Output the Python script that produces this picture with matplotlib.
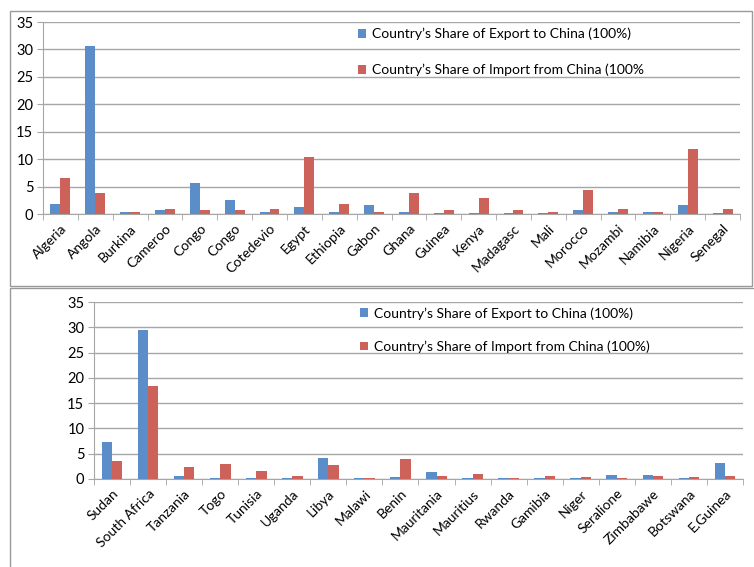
import numpy as np
import matplotlib
matplotlib.use('Agg')
import matplotlib.pyplot as plt
from matplotlib.patches import Rectangle

plt.rcParams['font.family'] = ['Lato', 'DejaVu Sans']

# Дані: частка експорту в Китай та імпорту з Китаю (%)
countries_top = ['Algeria', 'Angola', 'Burkina', 'Cameroo', 'Congo', 'Congo', 'Cotedevio',
                 'Egypt', 'Ethiopia', 'Gabon', 'Ghana', 'Guinea', 'Kenya', 'Madagasc',
                 'Mali', 'Morocco', 'Mozambi', 'Namibia', 'Nigeria', 'Senegal']
export_top = [1.9, 30.7, 0.3, 0.7, 5.6, 2.6, 0.3, 1.3, 0.3, 1.7,
              0.4, 0.25, 0.25, 0.25, 0.25, 0.7, 0.4, 0.4, 1.6, 0.25]
import_top = [6.5, 3.9, 0.3, 1.0, 0.7, 0.7, 1.0, 10.4, 1.9, 0.4,
              3.9, 0.7, 2.95, 0.7, 0.4, 4.4, 0.9, 0.4, 11.9, 0.9]

countries_bot = ['Sudan', 'South Africa', 'Tanzania', 'Togo', 'Tunisia', 'Uganda', 'Libya',
                 'Malawi', 'Benin', 'Mauritania', 'Mauritius', 'Rwanda', 'Gamibia', 'Niger',
                 'Seralione', 'Zimbabawe', 'Botswana', 'E.Guinea']
export_bot = [7.35, 29.4, 0.5, 0.2, 0.2, 0.2, 4.1, 0.2, 0.4, 1.45,
              0.2, 0.2, 0.2, 0.2, 0.7, 0.7, 0.2, 3.1]
import_bot = [3.6, 18.4, 2.4, 2.9, 1.6, 0.5, 2.7, 0.2, 3.9, 0.5,
              0.9, 0.2, 0.6, 0.4, 0.2, 0.5, 0.4, 0.6]

label_exp = 'Country\u2019s Share of Export to China (100%)'
label_imp_top = 'Country\u2019s Share of Import from China (100%'
label_imp_bot = 'Country\u2019s Share of Import from China (100%)'

BLUE = '#5B8EC9'
RED = '#CC625A'
GRID = '#A6A6A6'

fig = plt.figure(figsize=(7.54, 5.67), dpi=100)
W, H = 754, 567

# Рамки панелей
fig.patches.append(Rectangle((10 / W, 1 - 286 / H), 742 / W, 275 / H, transform=fig.transFigure,
                             fill=False, edgecolor='#9a9a9a', linewidth=1.0))
fig.patches.append(Rectangle((10 / W, -0.01), 760 / W, 1 - 288 / H + 0.01, transform=fig.transFigure,
                             fill=False, edgecolor='#9a9a9a', linewidth=1.0))


def draw_panel(rect, names, exp, imp, imp_label, leg_anchor, spacing):
    ax = fig.add_axes(rect)
    x = np.arange(len(names))
    w = 0.286
    ax.bar(x - w / 2, exp, w, color=BLUE, label=label_exp, zorder=3)
    ax.bar(x + w / 2, imp, w, color=RED, label=imp_label, zorder=3)
    ax.set_xlim(-0.5, len(names) - 0.5)
    ax.set_ylim(0, 35)
    ax.set_yticks(range(0, 36, 5))
    ax.yaxis.grid(True, color=GRID, linewidth=1.0, zorder=0)
    ax.set_axisbelow(True)
    for s in ['top', 'right']:
        ax.spines[s].set_visible(False)
    for s in ['left', 'bottom']:
        ax.spines[s].set_color(GRID)
    ax.set_xticks(x)
    ax.set_xticklabels(names, rotation=45, ha='right', rotation_mode='anchor', fontsize=10)
    ax.set_xticks(np.arange(-0.5, len(names)), minor=True)
    ax.tick_params(axis='x', which='major', length=0, pad=6)
    ax.tick_params(axis='x', which='minor', length=4, color=GRID)
    ax.tick_params(axis='y', length=4, color=GRID, labelsize=10.5, pad=3)
    ax.legend(loc='upper left', bbox_to_anchor=leg_anchor, frameon=False, fontsize=10,
              handlelength=0.6, handleheight=0.6, handletextpad=0.4,
              labelspacing=spacing, borderaxespad=0, borderpad=0)
    return ax


draw_panel([43 / W, 1 - 214 / H, 697 / W, 192 / H], countries_top, export_top, import_top,
           label_imp_top, (0.452, 0.97), 1.7)
draw_panel([94 / W, 1 - 479 / H, 649 / W, 177 / H], countries_bot, export_bot, import_bot,
           label_imp_bot, (0.41, 0.972), 1.5)

fig.savefig('out.png', dpi=100)
